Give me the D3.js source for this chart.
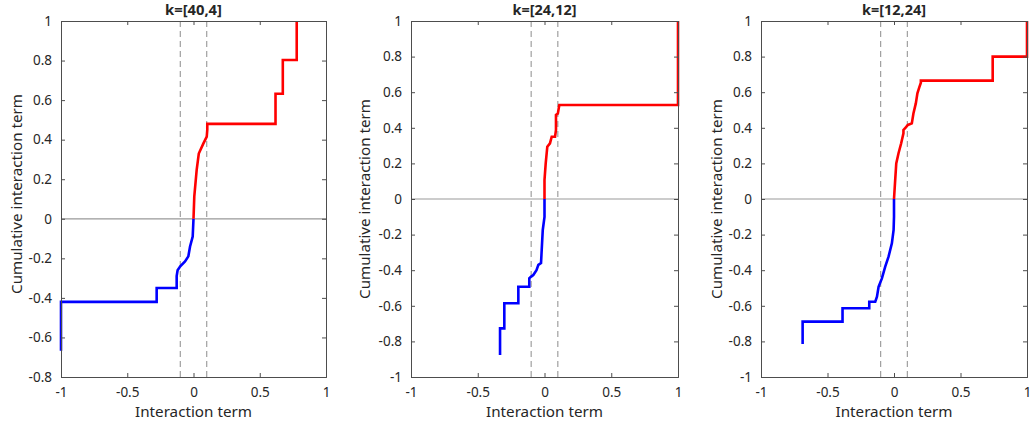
<!DOCTYPE html>
<html>
<head>
<meta charset="utf-8">
<script src="https://cdn.jsdelivr.net/npm/d3@7"></script>
<style>
  body { margin: 0; background: #fff; }
  svg text { font-family: "Noto Sans", sans-serif; fill: #262626; }
</style>
</head>
<body>
<svg id="chart" width="1030" height="426"></svg>
<script>
// panel titles and y domains
const titles = ["k=[40,4]", "k=[24,12]", "k=[12,24]"];
const yDomains = [[-0.8, 1], [-1, 1], [-1, 1]];
const xTicks = [-1, -0.5, 0, 0.5, 1];
const thresholds = [-0.1, 0.1];

// curves as [interaction term, cumulative value]
const neg1 = [[0, 0], [-0.006, -0.09], [-0.026, -0.14], [-0.039, -0.19], [-0.064, -0.216],
  [-0.10, -0.24], [-0.12, -0.26], [-0.127, -0.29], [-0.127, -0.35], [-0.278, -0.35],
  [-0.278, -0.42], [-1, -0.42], [-1, -0.667]];
const pos1 = [[0, 0], [0.006, 0.113], [0.024, 0.247], [0.04, 0.33], [0.074, 0.38],
  [0.1, 0.415], [0.104, 0.45], [0.104, 0.48], [0.619, 0.48], [0.619, 0.632],
  [0.674, 0.632], [0.674, 0.803], [0.779, 0.803], [0.779, 1.0]];

const neg2 = [[0, 0], [0, -0.1], [-0.013, -0.174], [-0.021, -0.287], [-0.026, -0.36],
  [-0.046, -0.37], [-0.06, -0.4], [-0.084, -0.427], [-0.1, -0.436], [-0.114, -0.446],
  [-0.114, -0.493], [-0.196, -0.493], [-0.196, -0.586], [-0.301, -0.586],
  [-0.301, -0.727], [-0.333, -0.727], [-0.333, -0.876]];
const pos2 = [[0, 0], [0, 0.107], [0.009, 0.2], [0.021, 0.294], [0.041, 0.313],
  [0.054, 0.35], [0.079, 0.35], [0.086, 0.388], [0.086, 0.472], [0.10, 0.48],
  [0.111, 0.528], [1.0, 0.528], [1.0, 1.0]];

const neg3 = [[0, 0], [0, -0.1], [-0.003, -0.174], [-0.016, -0.249], [-0.041, -0.324],
  [-0.066, -0.38], [-0.091, -0.446], [-0.116, -0.493], [-0.128, -0.549],
  [-0.141, -0.577], [-0.186, -0.577], [-0.186, -0.614], [-0.387, -0.614],
  [-0.387, -0.689], [-0.687, -0.689], [-0.687, -0.815]];
const pos3 = [[0, 0], [0.009, 0.107], [0.017, 0.2], [0.034, 0.257], [0.054, 0.313],
  [0.071, 0.369], [0.071, 0.388], [0.089, 0.403], [0.104, 0.416], [0.134, 0.425],
  [0.146, 0.48], [0.164, 0.537], [0.176, 0.594], [0.19, 0.627], [0.202, 0.653],
  [0.202, 0.665], [0.742, 0.665], [0.742, 0.8], [1.0, 0.8], [1.0, 1.0]];

const negCurves = [neg1, neg2, neg3];
const posCurves = [pos1, pos2, pos3];

// plot boxes for each panel
const boxes = [
  {left: 61, right: 326, top: 21, bottom: 377, ylab: 22, ymid: 194},
  {left: 411, right: 678, top: 21, bottom: 377, ylab: 370, ymid: 199},
  {left: 761, right: 1027, top: 21, bottom: 377, ylab: 722, ymid: 199}
];

const svg = d3.select("#chart");
const axisCol = "#4d4d4d";
const fmt = d => String(d); // plain hyphen minus like the original

// scale a text's font size so it spans the wanted width
function fitText(sel, width) {
  sel.attr("font-size", 100);
  const w = sel.node().getComputedTextLength();
  sel.attr("font-size", 100 * width / w);
}

boxes.forEach((b, i) => {
  const x = d3.scaleLinear().domain([-1, 1]).range([b.left, b.right]);
  const y = d3.scaleLinear().domain(yDomains[i]).range([b.bottom, b.top]);
  const yTicks = d3.range(Math.round(yDomains[i][0] * 10), 11, 2).map(v => v / 10);
  const g = svg.append("g");

  // zero line
  g.append("line")
    .attr("x1", b.left).attr("x2", b.right)
    .attr("y1", y(0)).attr("y2", y(0))
    .attr("stroke", "#999").attr("stroke-width", 1.2);

  // threshold lines
  thresholds.forEach(t => {
    g.append("line")
      .attr("x1", x(t)).attr("x2", x(t))
      .attr("y1", b.top).attr("y2", b.bottom)
      .attr("stroke", "#8c8c8c").attr("stroke-width", 1)
      .attr("stroke-dasharray", "6,4");
  });

  const line = d3.line().x(d => x(d[0])).y(d => y(d[1]));
  g.append("path").datum(negCurves[i])
    .attr("d", line).attr("fill", "none")
    .attr("stroke", "#0000ff").attr("stroke-width", 2.6);
  g.append("path").datum(posCurves[i])
    .attr("d", line).attr("fill", "none")
    .attr("stroke", "#ff0000").attr("stroke-width", 2.6);

  // axes (ticks inside, box on)
  const bottom = g.append("g").attr("transform", `translate(0,${b.bottom})`)
    .call(d3.axisBottom(x).tickValues(xTicks).tickSize(-4).tickPadding(10).tickFormat(fmt));
  const top = g.append("g").attr("transform", `translate(0,${b.top})`)
    .call(d3.axisTop(x).tickValues(xTicks).tickSize(-4).tickFormat(""));
  const left = g.append("g").attr("transform", `translate(${b.left},0)`)
    .call(d3.axisLeft(y).tickValues(yTicks).tickSize(-4).tickPadding(9).tickFormat(fmt));
  const right = g.append("g").attr("transform", `translate(${b.right},0)`)
    .call(d3.axisRight(y).tickValues(yTicks).tickSize(-4).tickFormat(""));

  [bottom, top, left, right].forEach(a => {
    a.select(".domain").attr("stroke", axisCol);
    a.selectAll(".tick line").attr("stroke", axisCol);
    a.selectAll("text").attr("font-size", 13.5).style("font-family", "'Noto Sans', sans-serif").attr("fill", "#262626");
  });

  // title
  const t = g.append("text")
    .attr("x", (b.left + b.right) / 2).attr("y", 15)
    .attr("text-anchor", "middle")
    .attr("font-weight", "bold")
    .text(titles[i]);
  fitText(t, i === 0 ? 57 : 64);

  // axis labels
  const xl = g.append("text")
    .attr("x", (b.left + b.right) / 2).attr("y", 417)
    .attr("text-anchor", "middle")
    .text("Interaction term");
  fitText(xl, 117);
  const yl = g.append("text")
    .attr("transform", `translate(${b.ylab},${b.ymid}) rotate(-90)`)
    .attr("text-anchor", "middle")
    .text("Cumulative interaction term");
  fitText(yl, 200);
});
</script>
</body>
</html>
